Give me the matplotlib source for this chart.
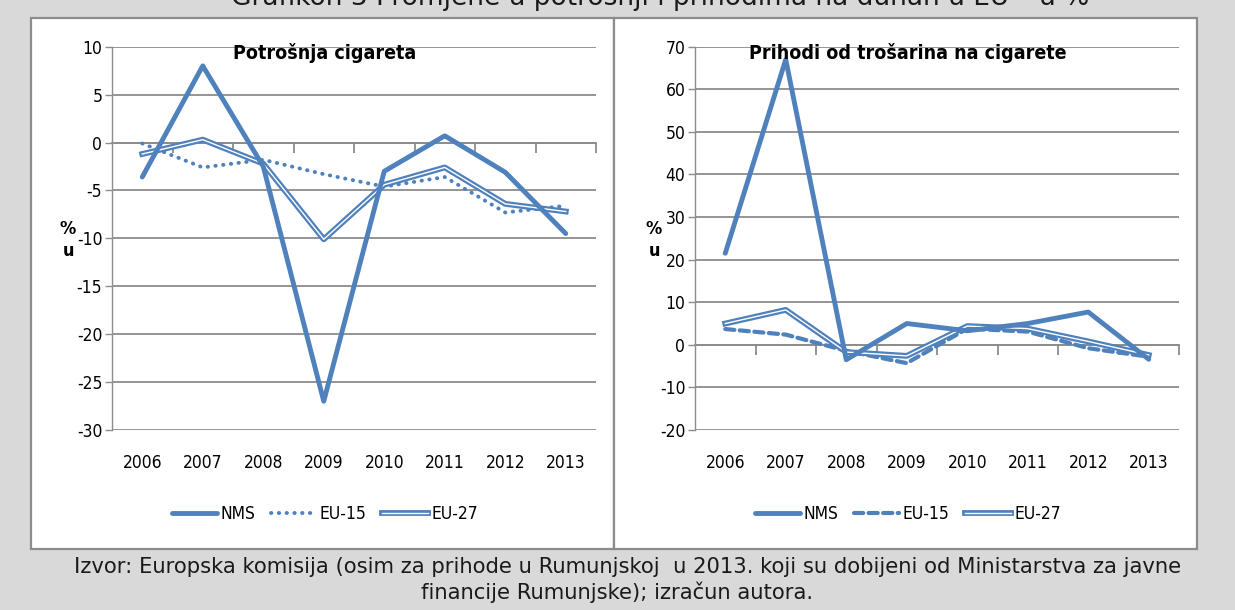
import matplotlib
matplotlib.use("Agg")
import matplotlib.pyplot as plt
from matplotlib.lines import Line2D
from matplotlib.patches import Rectangle
from matplotlib import font_manager

plt.rcParams["axes.unicode_minus"] = False

YEARS = ["2006", "2007", "2008", "2009", "2010", "2011", "2012", "2013"]

# Potrošnja cigareta (% change)
cons_nms = [-3.6, 8.0, -2.5, -27.0, -3.0, 0.7, -3.1, -9.5]
cons_eu15 = [-0.1, -2.6, -1.8, -3.3, -4.6, -3.6, -7.3, -6.6]
cons_eu27 = [-1.2, 0.3, -2.2, -10.1, -4.4, -2.6, -6.4, -7.2]

# Prihodi od trošarina na cigarete (% change)
rev_nms = [21.5, 67.0, -3.5, 5.0, 3.3, 5.0, 7.7, -3.4]
rev_eu15 = [3.7, 2.4, -1.4, -4.3, 3.8, 3.1, -0.8, -2.8]
rev_eu27 = [5.0, 8.2, -1.7, -2.6, 4.4, 3.8, 0.8, -2.4]

BLUE = "#4f81bd"
GRID = "#8c8c8c"
COND = dict(family="DejaVu Sans", stretch="condensed")

W, H = 1235, 610
fig = plt.figure(figsize=(W / 100, H / 100), dpi=100, facecolor="#d9d9d9")


def px(x0, y0, x1, y1):
    # pixel box -> figure fraction [left, bottom, width, height]
    return [x0 / W, 1 - y1 / H, (x1 - x0) / W, (y1 - y0) / H]


# white chart panels (behind the axes)
for x0, x1 in [(31, 614), (614, 1197)]:
    fig.patches.append(Rectangle((x0 / W, 1 - 549 / H), (x1 - x0) / W, (549 - 18) / H,
                                 transform=fig.transFigure, facecolor="white",
                                 edgecolor=GRID, linewidth=1.6, zorder=-5))


def eu15_style(dotted):
    if dotted:
        return dict(lw=2.8, linestyle=(0, (0.1, 1.9)), dash_capstyle="round")
    return dict(lw=3.0, linestyle=(0, (2.2, 1.3)), dash_capstyle="round")


def draw_panel(box, title, nms, eu15, eu27, ylim, step, dotted):
    ax = fig.add_axes(box)
    ax.set_facecolor("none")
    x = list(range(len(YEARS)))
    ax.plot(x, nms, color=BLUE, lw=3.5, solid_capstyle="round", zorder=4)
    ax.plot(x, eu15, color=BLUE, zorder=3, **eu15_style(dotted))
    ax.plot(x, eu27, color=BLUE, lw=4.2, zorder=3)
    ax.plot(x, eu27, color="white", lw=1.0, zorder=3)

    ax.set_xlim(-0.5, len(YEARS) - 0.5)
    ax.set_ylim(*ylim)
    ax.set_yticks(range(ylim[0], ylim[1] + 1, step))
    ax.grid(axis="y", color=GRID, lw=1.3)
    ax.set_axisbelow(True)
    for s in ["top", "right"]:
        ax.spines[s].set_visible(False)
    ax.spines["left"].set_color(GRID)
    ax.spines["left"].set_linewidth(1.0)
    ax.spines["bottom"].set_position(("data", 0))
    ax.spines["bottom"].set_color(GRID)
    ax.spines["bottom"].set_linewidth(1.3)
    ax.set_xticks([i + 0.5 for i in x])
    ax.tick_params(axis="x", length=7, width=1.3, color=GRID, labelbottom=False)
    ax.tick_params(axis="y", length=5, width=1.0, color=GRID, pad=2,
                   labelsize=12.5, labelcolor="black")
    for lab in ax.get_yticklabels():
        lab.set_family(COND["family"])
        lab.set_stretch(COND["stretch"])

    sec = ax.secondary_xaxis("bottom")
    sec.set_xticks(x)
    sec.set_xticklabels(YEARS, fontsize=12.5, **COND)
    sec.tick_params(length=0, pad=17)
    sec.spines["bottom"].set_visible(False)

    ax.text(0.44, 0.984, title, transform=ax.transAxes, ha="center", va="center",
            fontsize=14, fontweight="bold", zorder=6, **COND)

    h_nms = Line2D([], [], color=BLUE, lw=3.5, solid_capstyle="round")
    h_15 = Line2D([], [], color=BLUE, **eu15_style(dotted))
    h_27 = (Line2D([], [], color=BLUE, lw=4.2), Line2D([], [], color="white", lw=1.0))
    ax.legend([h_nms, h_15, h_27], ["NMS", "EU-15", "EU-27"], loc="center",
              bbox_to_anchor=(0.44, -0.219), ncol=3, frameon=False,
              handlelength=2.6, handletextpad=0.2, columnspacing=0.9,
              prop=font_manager.FontProperties(size=12.5, **COND))
    return ax


ax1 = draw_panel(px(112, 46.7, 596, 430), "Potrošnja cigareta",
                 cons_nms, cons_eu15, cons_eu27, (-30, 10), 5, dotted=True)
ax2 = draw_panel(px(695, 46.7, 1179, 430), "Prihodi od trošarina na cigarete",
                 rev_nms, rev_eu15, rev_eu27, (-20, 70), 10, dotted=False)

# stacked "% u" axis labels
for xp in (68, 654):
    fig.text(xp / W, 1 - 229 / H, "%", ha="center", va="center",
             fontsize=13, fontweight="bold", **COND)
    fig.text(xp / W, 1 - 251 / H, "u", ha="center", va="center",
             fontsize=13, fontweight="bold", **COND)

# clipped caption at the very top
fig.text(660 / W, 1 - 5 / H,
         "Grafikon 3 Promjene u potrošnji i prihodima na duhan u EU – u %",
         ha="center", va="baseline", fontsize=19, color="#1a1a1a")

# source note
fig.text(628 / W, 1 - 567 / H,
         "Izvor: Europska komisija (osim za prihode u Rumunjskoj  u 2013. koji su "
         "dobijeni od Ministarstva za javne",
         ha="center", va="center", fontsize=15.2, color="#1a1a1a")
fig.text(617 / W, 1 - 592 / H, "financije Rumunjske); izračun autora.",
         ha="center", va="center", fontsize=15.2, color="#1a1a1a")

fig.savefig("out.png", dpi=100, facecolor=fig.get_facecolor())
